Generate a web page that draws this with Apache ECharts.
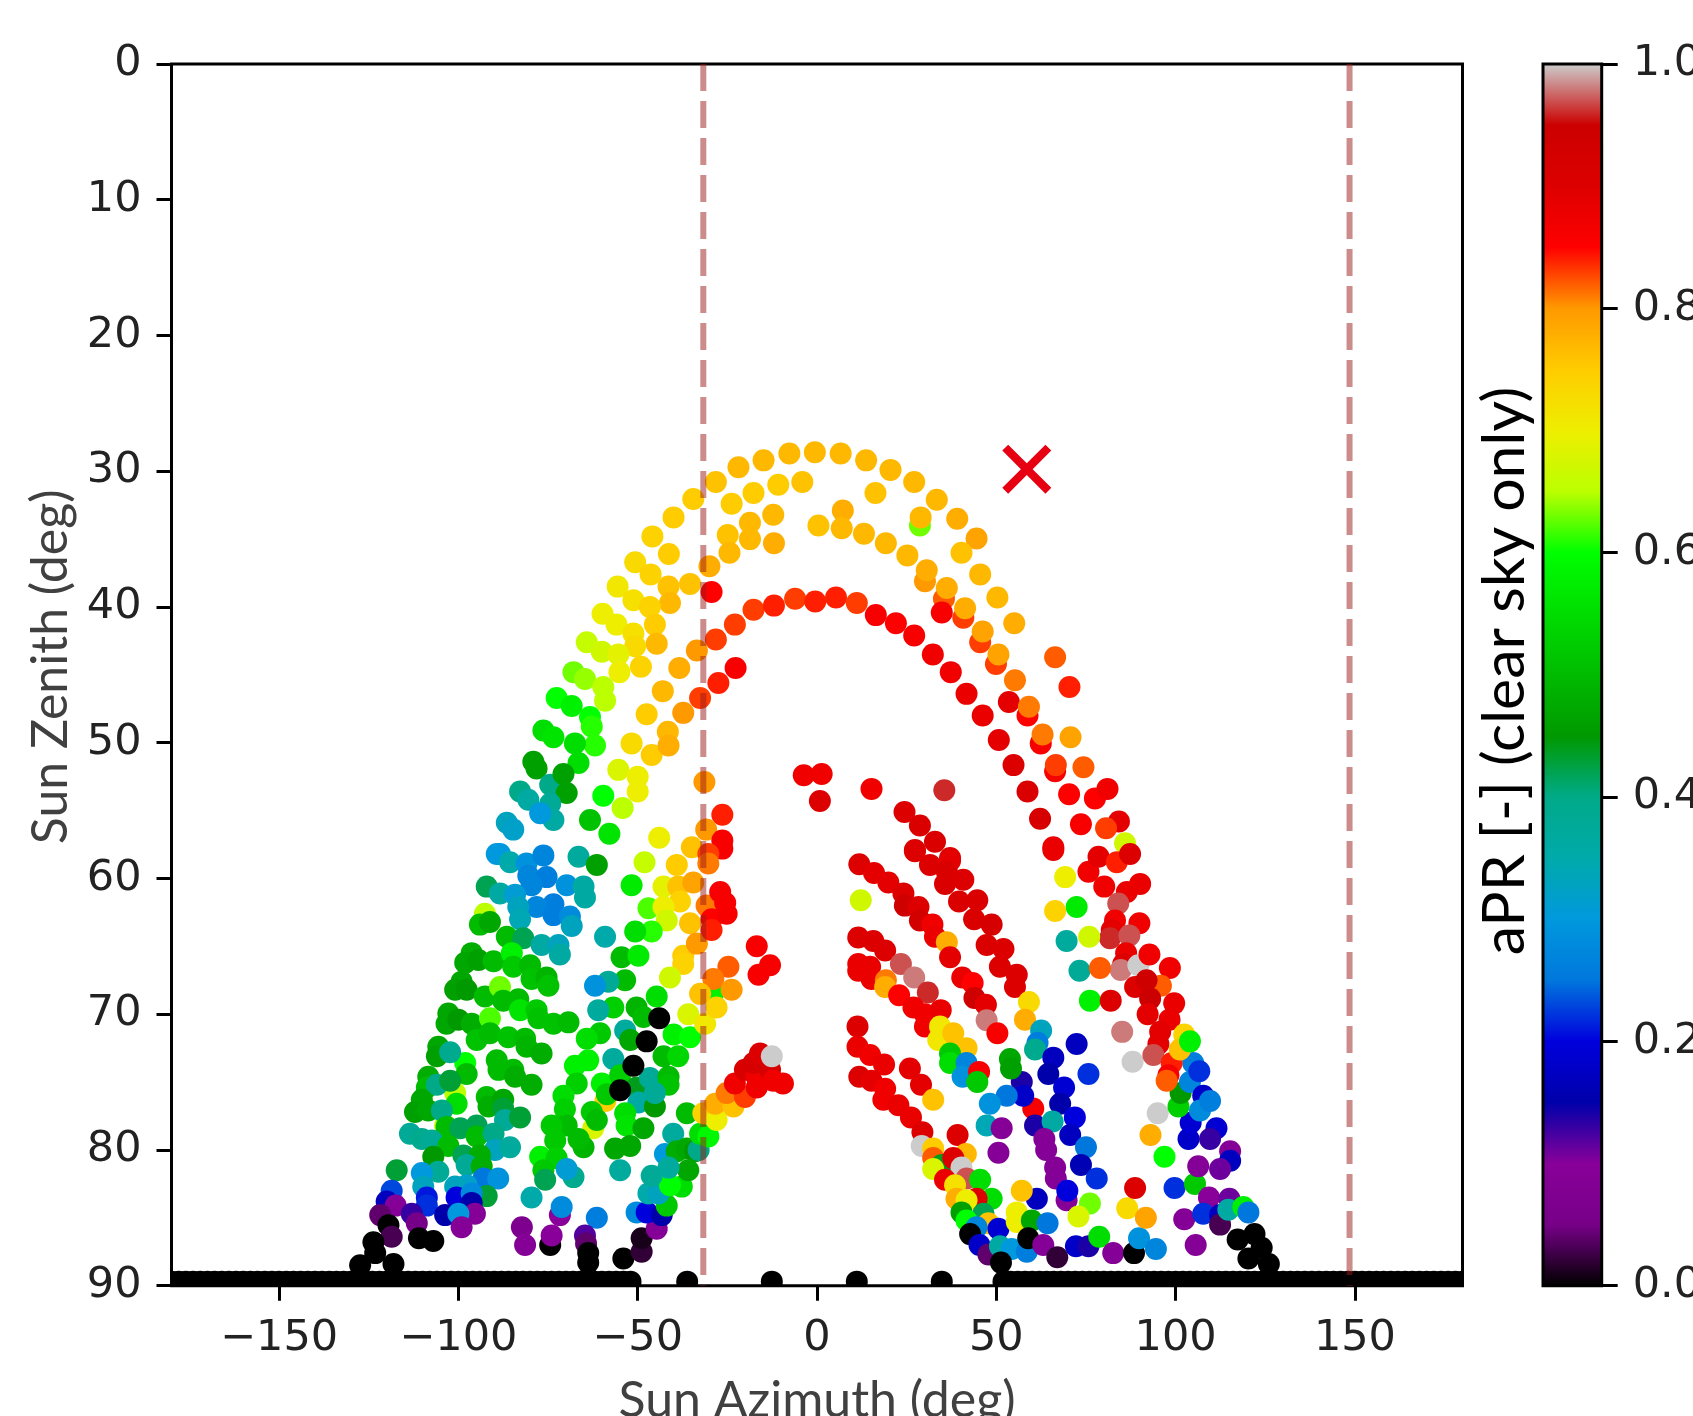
<!DOCTYPE html>
<html><head><meta charset="utf-8">
<style>html,body{margin:0;padding:0;background:#fff;overflow:hidden}#c{width:1693px;height:1416px}</style>
<script src="https://cdn.jsdelivr.net/npm/echarts@6/dist/echarts.min.js"></script>
</head><body><div id="c"></div>
<script>
// [azimuth deg, zenith deg, aPR]
const hiddenBehind = [[28.7,34,.63],[-59,76.4,.75],[-62.4,78.4,.68],[-98.1,73.6,.6],[-100.9,75.8,.65],[-103.7,78.2,.65],[-92.6,62.6,.65],[-71.7,84.8,.1],[-74.4,87,0],[-28.9,68.4,.58],[69.6,83.7,.09],[62.4,50.05,.86],[49.9,44.2,.83],[45.5,42.6,.83],[40.8,40.8,.83],[35.4,39.4,.82],[34.8,40.4,.86],[30.1,38.1,.8],[58.7,48,.85],[66.4,52.1,.86],[60.3,76.95,.86]];
const outerArc = [[-7.7,28.7,.77],[-14.9,29.2,.77],[-0.6,28.6,.77],[6.6,28.7,.77],[13.7,29.2,.77],[20.5,29.9,.77],[27.1,30.8,.77],[33.4,32.1,.77],[39.1,33.5,.78],[44.5,34.95,.79],[-21.9,29.7,.77],[-28.2,30.8,.76],[-34.5,32.05,.75],[-40,33.4,.75],[-45.9,34.8,.74],[-50.7,36.7,.73],[-55.6,38.5,.71],[-59.8,40.5,.7],[-64.2,42.6,.66],[-67.9,44.8,.63],[-72.6,46.7,.6],[-76.3,49.1,.55],[-79.1,51.4,.46],[-82.8,53.6,.4],[-86.5,55.9,.33],[-89.3,58.2,.3]];
const secondArc = [[-17.7,31.6,.75],[-23.8,32.4,.75],[-10.8,31,.75],[-4.1,30.8,.76],[16.3,31.6,.76],[28.9,33.4,.77],[40.3,36,.76],[45.5,37.6,.77],[50.3,39.3,.77],[55,41.2,.78],[-41.3,36.1,.75],[-46.4,37.6,.74],[-51.2,39.5,.72],[-55.9,41.3,.7],[-60,43.3,.67],[-64.7,45.3,.64],[-68.4,47.3,.58],[-73.5,49.6,.56],[-78.2,51.9,.46],[-74.4,53.1,.4],[-80.5,54.2,.36],[-84.7,56.4,.32]];
const thirdArc = [[-18.7,33.8,.77],[-24.9,34.7,.76],[-18.7,35,.77],[-24.4,36,.77],[-12.2,33.2,.77],[-12,35.3,.78],[7.2,32.9,.78],[0.4,34,.76],[6.9,34.2,.77],[13.1,34.6,.77],[19.2,35.3,.77],[25.2,36.2,.77],[30.6,37.3,.78],[36.2,38.6,.78],[41.3,40.1,.78],[46.2,41.8,.79],[50.6,43.5,.79],[53.5,47,.89],[55.2,45.4,.81],[59.1,47.35,.81],[62.9,49.4,.81],[66.6,51.65,.83],[70.7,49.6,.79],[66.4,43.7,.82],[70.4,45.9,.84],[74.3,51.8,.82],[70.3,53.8,.85],[77.5,54.1,.85],[81,53.4,.87],[73.6,56,.86],[84.2,55.8,.89],[80.6,56.3,.83],[85.9,57.4,.67],[65.9,57.7,.88],[-30,37,.78],[-35.4,38.3,.76],[-41.4,38.5,.76],[-41,39.7,.77],[-46.6,40,.74],[-45.2,41.3,.75],[-44.7,42.7,.77],[-51.2,41.95,.72],[-50.7,42.9,.73],[-55.4,43.5,.69],[-49.1,44.4,.74],[-55.1,44.8,.7],[-59.6,45.9,.65],[-59.1,46.9,.65],[-63.3,48.1,.6],[-62.8,48.8,.61],[-61.9,50.2,.61],[-67.5,50.05,.55],[-66.5,51.5,.55],[-70.7,52.3,.46],[-69.8,53.7,.46],[-74.4,54.5,.38],[-73.5,55.7,.36],[-77.2,55.2,.3],[-59.6,53.9,.6],[-54.2,54.8,.65],[-63.3,55.7,.51],[-57.9,56.7,.56]];
const innerArc = [[-17.7,40.2,.83],[-22.9,41.3,.83],[-28.2,42.4,.83],[-33.5,43.2,.8],[-38.4,44.5,.78],[-43,46.2,.77],[-47.5,47.9,.75],[-51.7,50.05,.73],[-55.4,52,.68],[-50,52.5,.7],[-50,53.6,.7],[-46.1,50.9,.75],[-41.6,49.2,.77],[-41.4,50.2,.78],[-37.3,47.8,.8],[-32.6,46.7,.83],[-27.5,45.6,.84],[-22.7,44.5,.86],[-29.4,38.9,.85],[-31.4,52.9,.8],[-26.4,55.3,.84],[-30.9,56.4,.8],[-26.4,57.2,.86],[-26.4,57.8,.86],[-44,57,.7],[-34.9,57.7,.76],[-30.3,58.2,.83],[-12,39.9,.84],[-6.1,39.4,.83],[-0.5,39.6,.84],[5.3,39.3,.84],[11.1,39.7,.83],[16.4,40.6,.86],[22,41.2,.85],[27.1,42.1,.86],[32.3,43.5,.87],[37.3,44.8,.87],[41.7,46.4,.88],[46.2,48,.88],[50.7,49.8,.89],[54.8,51.65,.9],[58.7,53.6,.91],[62.2,55.6,.92],[-3.7,52.4,.87],[1.3,52.3,.87],[0.8,54.3,.9],[15.2,53.4,.87],[35.5,53.5,.96],[24.4,55.1,.9],[28.7,56.1,.91],[32.9,57.3,.91],[27.3,57.9,.91],[37.1,58.5,.9]];
const westBlue = [[-88.4,58.2,.3],[-85.6,58.8,.35],[-81,58.9,.29],[-76.3,58.3,.27],[-66.5,58.4,.37],[-61.4,59,.46],[-80.5,59.8,.27],[-75.4,59.9,.26],[-79.6,60.5,.27],[-69.8,60.5,.29],[-92.1,60.6,.42],[-88.4,61.1,.36],[-84.2,61.2,.31],[-65.1,60.6,.36],[-64.7,61.4,.36],[-73.5,61.9,.26],[-78.2,62.1,.27],[-83.3,62.1,.33],[-73.5,62.7,.26],[-68.9,62.8,.28],[-68.4,63.5,.33],[-82.8,63,.34]];
const centreWest = [[-51.7,60.5,.57],[-47,62.2,.62],[-42.8,60.6,.69],[-38.7,60.6,.76],[-34.5,60.3,.79],[-30.3,58.9,.81],[-39.1,59,.75],[-48.1,58.8,.66],[-30.8,62,.81],[-38.2,61.7,.74],[-35.4,63.3,.76],[-42.8,62.1,.7],[-41.9,63.1,.67],[-46.1,63.9,.61],[-50.7,63.9,.55],[-59.1,64.3,.35],[-54.5,65.8,.5],[-49.8,65.7,.57],[-37.3,65.7,.75],[-37.3,66.3,.74],[-41,67.3,.67],[-33.5,64.8,.8],[-53.5,67.5,.5],[-58.2,67.6,.38],[-61.9,67.9,.29],[-44.7,68.7,.55],[-50.3,69.5,.49],[-48.4,70.2,.5],[-56.8,69.5,.53],[-61,69.7,.37],[-53.5,71.2,.37],[-52.1,71.9,.47],[-60.5,71.4,.52],[-64.2,71.8,.55],[-40,71.5,.58],[-35.4,71.7,.6],[-35.9,70,.68],[-31.2,70.7,.71],[-42.8,73.1,.5],[-38.7,73.1,.54],[-56.8,73.3,.37],[-63.8,73.4,.58],[-67.5,73.8,.58],[-67,75.1,.53],[-60,75.1,.58],[-58.6,75.9,.52],[-54.9,74.5,.53],[-50.3,75.4,.44],[-46.6,74.7,.38],[-41.4,74.6,.5],[-41.4,75.2,.51],[-49.8,76.5,.36],[-45.2,76.8,.45],[-45.2,75.8,.38],[-70.7,76,.55],[-70.3,77,.53],[-62.8,77.2,.52],[-61.4,77.8,.5],[-69.8,78.2,.5],[-74,78.2,.52],[-73,79.3,.52],[-65.1,79.8,.49],[-66.5,79.2,.5],[-53.5,77.3,.55],[-53.1,78.2,.56],[-48.4,78.4,.47],[-56.3,79.9,.47],[-52.1,79.7,.47],[-54.9,81.5,.37],[-77.2,80.5,.58],[-72.6,80.6,.53],[-76.3,81.5,.52],[-75.8,82.2,.42],[-67.9,82,.39],[-69.8,81.4,.31],[-79.6,83.5,.35],[-71.2,84.2,.28],[-61.4,85,.26],[-82.3,85.7,.07],[-81.4,87,.09],[-74,86.3,.1],[-64.7,86.3,.12],[-64.4,86.9,.04],[-63.8,87.6,0],[-63.8,88.3,0],[-54,88,0],[-48.9,87.5,.02],[-48.9,86.5,.01],[-44.7,85.8,.09],[-50.3,84.6,.28],[-47.5,84.6,.2],[-43.3,84.8,.15],[-41.9,84.1,.52],[-47,83.2,.35],[-44.2,83.2,.33],[-37.7,82.7,.55],[-41,82.6,.6],[-46.1,81.9,.38],[-42.4,80.3,.3],[-40.1,78.8,.37],[-36.3,77.3,.5],[-39.1,80.1,.48],[-36.3,79.9,.47],[-34,80.1,.45],[-35.9,81.5,.47],[-41.4,81.3,.37],[-33,80,.4],[-32.6,78.8,.55],[-30.3,79,.59]];
const blackRun = [[-44,70.3,0],[-47.5,72,0],[-51.2,73.8,0],[-54.9,75.6,0]];
const noonWest = [[-27,61,.86],[-25.6,61.8,.86],[-29.4,63,.85],[-25.2,62.6,.86],[-29.4,63.8,.84],[-16.8,65,.86],[-13.1,66.4,.86],[-16.3,67.1,.86],[-24.7,66.5,.82],[-28.9,67.4,.81],[-23.8,68.2,.8],[-32.6,68.5,.76],[-28,69.5,.74],[-31.7,77.3,.74],[-28,77.8,.7],[-28.4,76.6,.78],[-23.3,76.8,.76],[-25.2,75.8,.81],[-20.1,76.1,.83],[-22.9,75.1,.87],[-16.8,75.4,.87],[-20.1,74.1,.91],[-16.8,74.6,.87],[-17.7,73.6,.92],[-15.9,72.9,.9],[-13.1,74.1,.92],[-12.2,74.9,.87],[-12.6,73.1,1],[-9.5,75.1,.87]];
const westField = [[-94,63.4,.5],[-91.2,63.2,.47],[-86.5,64.3,.5],[-81.9,64.4,.42],[-76.8,64.9,.36],[-72.1,64.9,.33],[-71.7,65.6,.36],[-96.3,65.5,.48],[-98.1,66.2,.47],[-94.4,66,.46],[-90.2,66.1,.5],[-85.1,65.5,.58],[-84.7,66.5,.52],[-80,66.4,.5],[-79.6,67.4,.51],[-75.4,67.3,.49],[-74.9,67.9,.51],[-99.1,67.6,.47],[-100.9,68.2,.46],[-97.7,68.2,.45],[-92.6,68.7,.5],[-88.4,68,.63],[-87.5,69,.5],[-83.3,68.9,.5],[-82.8,69.7,.56],[-78.2,69.7,.52],[-77.7,70.3,.51],[-73.5,70.7,.51],[-69.3,70.6,.5],[-102.8,69.95,.47],[-103.3,70.7,.47],[-100,70.4,.45],[-96.3,70.7,.48],[-91.2,70.3,.62],[-94.9,71.9,.51],[-91.2,71.4,.5],[-86.1,71.7,.51],[-81.4,71.8,.5],[-81,72.4,.49],[-76.8,72.9,.48],[-105.6,72.4,.47],[-106,73.1,.46],[-102.3,72.8,.39],[-97.7,74.4,.5],[-89.3,73.4,.5],[-88.8,74.1,.5],[-84.7,74.1,.5],[-84.2,74.6,.48],[-79.6,75.2,.48],[-108.4,74.6,.48],[-108.8,75.4,.5],[-106,75.2,.4],[-102.3,74.9,.43],[-100.5,76.6,.55],[-92.1,76.1,.5],[-91.6,76.8,.48],[-87.5,76.3,.47],[-87.5,76.95,.43],[-87,77.8,.38],[-82.8,77.6,.43],[-110.2,76.3,.47],[-112.1,77.2,.46],[-108.4,77.1,.47],[-104.6,77.1,.4],[-103.3,78.3,.5],[-99.5,78.4,.42],[-94.9,78.2,.42],[-113.5,78.8,.38],[-110.2,79.2,.39],[-107.4,79.3,.38],[-102.8,79.7,.5],[-94.9,79,.5],[-90.2,78.8,.4],[-89.8,80,.33],[-85.6,79.8,.37],[-107,80.5,.45],[-98.6,80.4,.42],[-94,80.4,.48],[-117.2,81.5,.43],[-105.6,81.6,.38],[-97.7,81.1,.38],[-93.5,81.2,.48],[-110.2,81.7,.3],[-93,82.1,.25],[-88.9,82.1,.29],[-97.7,82.6,.32],[-100.9,82.7,.33],[-109.8,82.7,.33],[-118.6,83,.23],[-92.1,83.4,.43],[-100.5,83.5,.2],[-96.3,83.2,.28],[-108.8,83.5,.21],[-108.8,84.1,.22],[-120,83.8,.17],[-117.5,84.1,.09],[-113,84.7,.13],[-96.3,83.9,.15],[-95.4,84.7,.09],[-103.7,84.8,.15],[-100,84.7,.3],[-99.1,85.7,.09],[-121.8,84.8,.04],[-111.6,85.4,.05],[-119.5,85.55,0],[-118.6,86.4,.03],[-111,86.5,0],[-107,86.7,0],[-123.7,86.8,0],[-123.2,87.6,0],[-127.4,88.5,0],[-118.1,88.4,0]];
const centreRed = [[11.8,58.95,.9],[15.9,59.6,.89],[19.9,60.3,.89],[24.1,61.1,.9],[24.5,62,.94],[28.3,62.1,.9],[28.7,63.1,.93],[32.2,63.4,.87],[32.9,64.3,.88],[36.2,64.7,.78],[12.2,61.6,.67],[27.3,58,.9],[31.5,59,.9],[37.1,58.7,.89],[36.2,59.5,.91],[35.7,60.4,.91],[40.8,60.1,.9],[39.6,61.7,.91],[44.7,61.6,.91],[43.8,63,.91],[48.7,63.4,.92],[47.3,64.9,.91],[52,65.2,.9],[51,66.5,.9],[55.7,67.1,.9],[55.2,68,.9],[37.1,65.8,.89],[40.5,67.3,.88],[43.4,67.7,.85],[43.9,68.8,.94],[47.1,69.3,.89],[47.3,70.45,.98],[50.3,71.4,.86],[59.1,69.1,.73],[58,70.4,.78],[11.5,64.35,.9],[15.7,64.6,.9],[19,65.3,.9],[11.5,66.3,.88],[14.8,66.5,.88],[11.5,66.8,.88],[15.2,67.4,.88],[23.4,66.3,.97],[27.1,67.3,.98],[30.9,68.4,.96],[19.2,67.5,.81],[19,68,.78],[22.9,68.6,.85],[26.9,69.5,.87],[30.1,70,.87],[34.5,69.7,.88],[30.1,70.9,.87],[34.3,70.9,.71],[33.8,71.9,.71],[38,71.4,.76],[41.7,72.5,.76],[37.1,72.9,.52],[37.1,73.6,.55],[41.7,73.6,.27],[40.6,74.6,.29],[45.2,74.25,.86],[44.7,75,.52],[11.3,70.9,.9],[11.3,72.4,.88],[14.8,73,.87],[18.7,73.7,.88],[25.9,74,.89],[29,75.2,.89],[11.8,74.6,.9],[15.2,74.9,.89],[19,75.5,.87],[18.5,76.3,.87],[22.7,76.7,.88],[26.2,77.6,.88],[29.4,78.7,.9],[32.4,76.3,.76],[39.2,78.9,.9],[41.5,80.3,.77],[29.2,79.7,1],[32.4,79.9,.75],[32.4,80.6,.82],[34.8,81.1,.44],[32.4,81.4,.68],[38,80.6,.9],[40.3,81.3,1],[41.7,82.1,.97],[45.5,82.2,.55],[35.7,82.2,.88],[38.5,82.6,.72],[48.7,83.6,.55],[44.5,83.6,.9],[38.9,83.6,.78],[41.7,83.7,.7],[46.4,84.7,.42],[40.3,84.6,.46],[41.7,85.2,.6],[47.8,85.4,.76],[44.5,85.7,.27],[50.6,85.8,.19],[42.7,86.2,0],[45.3,87,.18],[47.8,87.7,.04],[51,87.1,.36],[54.3,87.3,.3],[58.5,87.5,.26],[51.3,88.3,0]];
const eastFan = [[62.5,71.2,.33],[61.5,72.1,.26],[60.8,72.6,.39],[65.9,73.2,.17],[72.4,72.2,.17],[75.7,74.4,.22],[64.5,74.4,.15],[68.9,75.4,.19],[57.1,75,.14],[57.5,76,.18],[53.8,73.3,.47],[54.1,74,.46],[52.9,76,.25],[48.2,76.6,.29],[67.8,76.6,.15],[71.9,77.6,.2],[60.8,78.2,.14],[65.7,77.9,.36],[47.3,78.2,.34],[51.5,78.4,.09],[70.6,78.9,.17],[63.4,79.2,.09],[63.9,80,.09],[75,79.8,.25],[50.6,80.2,.09],[73.6,81.1,.16],[66.4,81.3,.09],[66.6,82.1,.09],[78,82.1,.22],[69.8,83,.2],[76.1,83.95,.63],[72.9,84.9,.68],[61.3,83.6,.17],[57.1,83,.76],[55.7,84.6,.7],[55.7,85.3,.7],[59.9,85.2,.47],[64.3,85.4,.25],[58.9,86.5,0],[63.1,87,.09],[67,87.9,.02],[72.2,87.1,.18],[75.7,87.1,.14],[78.7,86.4,.55],[82.6,87.6,.09],[88.4,87.6,0],[89.8,86.5,.29],[94.5,87.3,.27],[93,78.9,.78],[86.5,84.3,.73],[91.7,85,.79],[88.7,82.8,.9],[96.9,80.5,.6],[95,77.3,1],[88,73.5,1],[85.1,71.3,.98]];
const eastEdge = [[99.7,82.8,.22],[102.4,85.1,.09],[105.6,87,.09],[105.4,82.5,.52],[106.3,81.2,.09],[109.3,83.5,.1],[115,83.6,.11],[107.7,84.7,.22],[112.4,84.8,.17],[112.4,85.5,.03],[114.7,84.4,.36],[118.9,84.2,.58],[120.3,84.6,.25],[117.3,86.6,0],[120.3,88,0],[122,86.2,0],[124,87.2,0],[126,88.4,0],[103.6,79.2,.18],[104.2,78,.19],[111.4,78.4,.19],[109.6,79.2,.13],[115.2,80.1,.09],[115.2,80.8,.17],[112.4,81.4,.11],[100.8,76.8,.53],[101.4,75.8,.45],[104,75,.27],[104.9,73.6,.26],[106.6,74.2,.22],[107.7,76,.18],[106.8,77.1,.28],[109.6,76.4,.26]];
const eastRed = [[65.9,57.9,.88],[75.7,59.5,.87],[78.5,58.4,.89],[83.6,58.8,.84],[87.3,58.2,.9],[80.1,60.6,.87],[90.1,60.4,.88],[86.4,61,.88],[69.2,59.9,.7],[72.4,62.1,.57],[66.4,62.4,.74],[84,61.85,.97],[83.1,63.1,.87],[82.2,63.8,.89],[81.7,64.4,.96],[89.9,63.3,.87],[87.1,64.2,.97],[69.6,64.6,.37],[75.9,64.3,.67],[86.2,65.5,.88],[85.4,66.3,.9],[84.7,66.75,.98],[89.6,66.4,1],[92.7,65.6,.87],[98.4,66.6,.87],[95.9,67.9,.82],[88.7,68,.9],[91.9,67.5,.94],[92.9,68.85,.95],[92.2,70,.89],[73.2,66.8,.38],[78.9,66.6,.82],[76.1,69,.58],[81.9,69,.9],[99.6,69.2,.88],[98.3,70.4,.88],[95.7,71.3,.89],[95.2,72.2,.89],[93.8,73,.97],[98.9,73.6,.84],[98,74.5,.86],[97.5,74.9,.82],[102.4,71.5,.74],[101.2,72.6,.76],[104,72,.58]];
const blackFloorAzimuth = [-180,-178,-176,-174,-172,-170,-168,-166,-164,-162,-160,-158,-156,-154,-152,-150,-148,-146,-144,-142,-140,-138,-136,-134,-132,-130,-128,-126,-124,-122,-120,-118,-116,-114,-112,-110,-108,-106,-104,-102,-100,-98,-96,-94,-92,-90,-88,-86,-84,-82,-80,-78,-76,-74,-72,-70,-68,-66,-64,-62,-60,-58,-56,-54,-52,-36.2,-12.6,11.1,34.8,52,54,56,58,60,62,64,66,68,70,72,74,76,78,80,82,84,86,88,90,92,94,96,98,100,102,104,106,108,110,112,114,116,118,120,122,124,126,128,130,132,134,136,138,140,142,144,146,148,150,152,154,156,158,160,162,164,166,168,170,172,174,176,178,180];
const floorZenith = 89.7;
const referencePoint = [[58.5,29.85]];
const fieldLimits = [-31.7,148.5];
const xTicks = [-150,-100,-50,0,50,100,150];
const yTicks = [0,10,20,30,40,50,60,70,80,90];
const spectral = ['#000000','#770088','#880099','#0000aa','#0000dd','#0077dd','#0099dd','#00aaaa','#00aa88','#009900','#00bb00','#00dd00','#00ff00','#bbff00','#eeee00','#ffcc00','#ff9900','#ff0000','#dd0000','#cc0000','#cccccc'];

const points = [].concat(hiddenBehind,outerArc,secondArc,thirdArc,innerArc,westBlue,westField,centreWest,blackRun,noonWest,centreRed,eastFan,eastEdge,eastRed);
const floor = blackFloorAzimuth.map(a=>[a,floorZenith,0]);

const L=171.5,T=64,W=1291,H=1221.7;
const tickFont={fontFamily:'DejaVu Sans',fontSize:43,color:'#222'};
const chart=echarts.init(document.getElementById('c'),null,{renderer:'canvas',width:1693,height:1416});
const limitSeries=fieldLimits.map(v=>({type:'line',xAxisIndex:0,yAxisIndex:0,data:[[v,0],[v,90]],symbol:'none',silent:true,z:5,
  lineStyle:{color:'rgba(155,25,25,0.5)',width:6,type:[27,10]}}));
chart.setOption({
  animation:false,backgroundColor:'#fff',
  grid:[
    {left:L,top:T,width:W,height:H,show:true,borderColor:'#000',borderWidth:3,backgroundColor:'transparent',containLabel:false,outerBoundsMode:'none'},
    {left:1543,top:T,width:58.7,height:H,show:true,borderColor:'#000',borderWidth:3,backgroundColor:'transparent',containLabel:false,outerBoundsMode:'none'}
  ],
  xAxis:[
    {type:'value',gridIndex:0,min:-180,max:180,splitLine:{show:false},axisLine:{show:false,onZero:false},
     axisTick:{length:15,lineStyle:{color:'#000',width:3},customValues:xTicks},
     axisLabel:Object.assign({margin:32,customValues:xTicks,formatter:v=>String(v).replace('-','\u2212')},tickFont),
     name:'Sun Azimuth (deg)',nameLocation:'middle',nameGap:90,nameTextStyle:{fontFamily:'Lato',fontSize:50,color:'#404040'}},
    {type:'value',gridIndex:1,min:0,max:1,show:false}
  ],
  yAxis:[
    {type:'value',gridIndex:0,inverse:true,min:0,max:90,splitLine:{show:false},axisLine:{show:false,onZero:false},interval:10,
     axisTick:{length:15,lineStyle:{color:'#000',width:3},customValues:yTicks},
     axisLabel:Object.assign({margin:30,customValues:yTicks},tickFont),
     name:'Sun Zenith (deg)',nameLocation:'middle',nameGap:91,nameRotate:90,nameTextStyle:{fontFamily:'Lato',fontSize:50,color:'#404040',padding:[0,0,0,16]}},
    {type:'value',gridIndex:1,position:'right',min:0,max:1,interval:0.2,splitLine:{show:false},axisLine:{show:false,onZero:false},
     axisTick:{length:16,lineStyle:{color:'#000',width:3}},
     axisLabel:Object.assign({margin:31,formatter:v=>v.toFixed(1)},tickFont)}
  ],
  visualMap:{type:'continuous',show:true,min:0,max:1,seriesIndex:[0,1],dimension:2,calculable:false,realtime:false,
    orient:'vertical',left:1543,top:T,itemWidth:58.7,itemHeight:H,padding:0,text:null,showLabel:false,hoverLink:false,z:-1,
    inRange:{color:spectral}},
  series:[
    {type:'scatter',xAxisIndex:0,yAxisIndex:0,data:points,symbol:'circle',symbolSize:22,silent:true,z:2,encode:{x:0,y:1},itemStyle:{opacity:1}},
    {type:'custom',xAxisIndex:0,yAxisIndex:0,data:floor,clip:true,silent:true,z:2,encode:{x:0,y:1},
     renderItem:(p,api)=>{const c=api.coord([api.value(0),api.value(1)]);return {type:'circle',shape:{cx:c[0],cy:c[1],r:11},style:{fill:api.visual('color')}};}},
    ...limitSeries,
    {type:'scatter',xAxisIndex:0,yAxisIndex:0,data:referencePoint,silent:true,z:6,symbolSize:49,
     symbol:'path://M0 12 L12 0 L50 38 L88 0 L100 12 L62 50 L100 88 L88 100 L50 62 L12 100 L0 88 L38 50 Z',
     itemStyle:{color:'#e60012',opacity:1}}
  ],
  graphic:[{type:'text',rotation:Math.PI/2,x:1505,y:671,silent:true,
    style:{text:'aPR [-] (clear sky only)',fontFamily:'Lato',fontSize:59,fill:'#000',align:'center',verticalAlign:'middle'}}]
});
</script></body></html>
